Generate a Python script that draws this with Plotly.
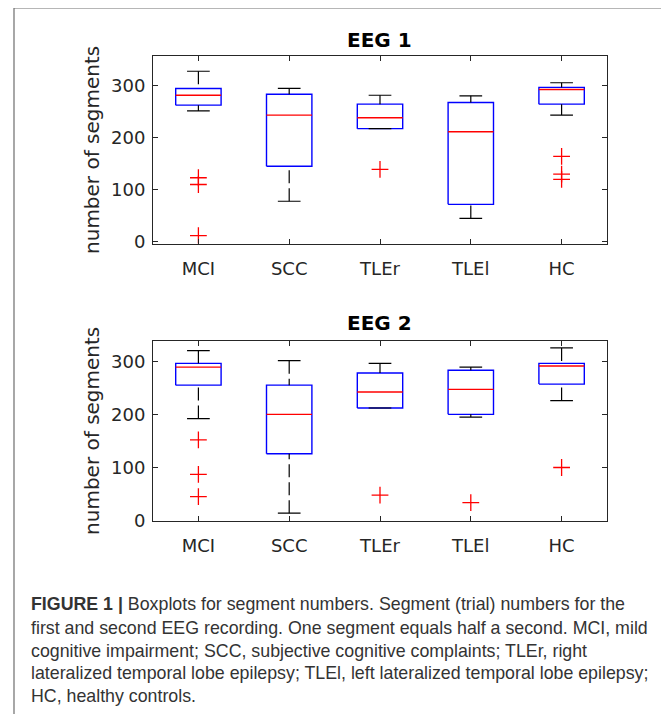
import plotly.graph_objects as go

# The page body has an 8px margin, so the figure is sized/offset to fit the window.
OFF = 8
W, H = 669 - OFF, 722 - 2 * OFF

categories = ["MCI", "SCC", "TLEr", "TLEl", "HC"]
y_ticks = [0, 100, 200, 300]

# EEG 1 box statistics
eeg1_lower = [251, 78, 217, 45, 243]
eeg1_q1 = [262, 145, 217, 72, 264]
eeg1_median = [281, 243, 238, 211, 292]
eeg1_q3 = [294, 283, 264, 267, 296]
eeg1_upper = [327, 294, 281, 280, 305]
eeg1_outliers = [[123, 110, 12], [], [139], [], [164, 130, 120]]

# EEG 2 box statistics
eeg2_lower = [192, 14, 212, 195, 226]
eeg2_q1 = [255, 126, 212, 200, 257]
eeg2_median = [289, 200, 242, 247, 291]
eeg2_q3 = [296, 255, 278, 283, 296]
eeg2_upper = [320, 301, 296, 289, 325]
eeg2_outliers = [[152, 87, 45], [], [48], [34], [100]]

caption_lines = [
    "<b>FIGURE 1 |</b> Boxplots for segment numbers. Segment (trial) numbers for the",
    "first and second EEG recording. One segment equals half a second. MCI, mild",
    "cognitive impairment; SCC, subjective cognitive complaints; TLEr, right",
    "lateralized temporal lobe epilepsy; TLEl, left lateralized temporal lobe epilepsy;",
    "HC, healthy controls.",
]

FONT = "DejaVu Sans"
AX_COL = "#262626"
BOX_W = 0.5
CAP_W = 0.25

fig = go.Figure()


def add_panel(lower, q1, med, q3, upper, outliers, xa, ya):
    pos = list(range(1, len(categories) + 1))
    # boxes
    bx, by = [], []
    for p, a, b in zip(pos, q1, q3):
        bx += [p - BOX_W / 2, p + BOX_W / 2, p + BOX_W / 2, p - BOX_W / 2, p - BOX_W / 2, None]
        by += [a, a, b, b, a, None]
    fig.add_trace(go.Scatter(x=bx, y=by, mode="lines",
                             line=dict(color="#0000ff", width=1.4),
                             xaxis=xa, yaxis=ya, showlegend=False, hoverinfo="skip"))
    # whiskers (drawn from cap toward box)
    wx, wy = [], []
    for p, lo, a, b, up in zip(pos, lower, q1, q3, upper):
        if lo < a:
            wx += [p, p, None]
            wy += [lo, a, None]
        if up > b:
            wx += [p, p, None]
            wy += [up, b, None]
    fig.add_trace(go.Scatter(x=wx, y=wy, mode="lines",
                             line=dict(color="black", width=1.2, dash="13px,5px"),
                             xaxis=xa, yaxis=ya, showlegend=False, hoverinfo="skip"))
    # caps
    cx, cy = [], []
    for p, lo, up in zip(pos, lower, upper):
        cx += [p - CAP_W / 2, p + CAP_W / 2, None, p - CAP_W / 2, p + CAP_W / 2, None]
        cy += [lo, lo, None, up, up, None]
    fig.add_trace(go.Scatter(x=cx, y=cy, mode="lines",
                             line=dict(color="black", width=1.2),
                             xaxis=xa, yaxis=ya, showlegend=False, hoverinfo="skip"))
    # medians
    mx, my = [], []
    for p, m in zip(pos, med):
        mx += [p - BOX_W / 2, p + BOX_W / 2, None]
        my += [m, m, None]
    fig.add_trace(go.Scatter(x=mx, y=my, mode="lines",
                             line=dict(color="#ff0000", width=1.4),
                             xaxis=xa, yaxis=ya, showlegend=False, hoverinfo="skip"))
    # outliers
    ox, oy = [], []
    for p, outs in zip(pos, outliers):
        for v in outs:
            ox.append(p)
            oy.append(v)
    fig.add_trace(go.Scatter(x=ox, y=oy, mode="markers",
                             marker=dict(symbol="cross-thin", size=12,
                                         line=dict(color="#ff0000", width=1.3)),
                             xaxis=xa, yaxis=ya, showlegend=False, hoverinfo="skip"))


add_panel(eeg1_lower, eeg1_q1, eeg1_median, eeg1_q3, eeg1_upper, eeg1_outliers, "x", "y")
add_panel(eeg2_lower, eeg2_q1, eeg2_median, eeg2_q3, eeg2_upper, eeg2_outliers, "x2", "y2")


def px_x(v):
    return (v - OFF) / W


def px_y(v):
    return 1 - (v - OFF) / H


ax_x_common = dict(
    range=[0.5, len(categories) + 0.5], tickmode="array",
    tickvals=list(range(1, len(categories) + 1)), ticktext=categories,
    ticks="inside", ticklen=5, tickcolor=AX_COL, tickwidth=1,
    showline=True, linecolor=AX_COL, linewidth=1, mirror="allticks",
    showgrid=False, zeroline=False, tickfont=dict(family=FONT, size=18, color=AX_COL),
    ticklabelstandoff=9, fixedrange=True,
)
ax_y_common = dict(
    tickmode="array", tickvals=y_ticks,
    ticks="inside", ticklen=5, tickcolor=AX_COL, tickwidth=1,
    showline=True, linecolor=AX_COL, linewidth=1, mirror="allticks",
    showgrid=False, zeroline=False, tickfont=dict(family=FONT, size=18, color=AX_COL),
    ticklabelstandoff=3, fixedrange=True,
)

xdom = [px_x(153), px_x(607)]
fig.update_layout(
    width=W, height=H, margin=dict(l=0, r=0, t=0, b=0),
    paper_bgcolor="white", plot_bgcolor="white", showlegend=False,
    xaxis=dict(domain=xdom, anchor="y", **ax_x_common),
    yaxis=dict(domain=[px_y(247), px_y(57)], anchor="x", range=[-3.2, 355.6], **ax_y_common),
    xaxis2=dict(domain=xdom, anchor="y2", **ax_x_common),
    yaxis2=dict(domain=[px_y(528), px_y(346)], anchor="x2", range=[0, 337.7], **ax_y_common),
)

annotations = []
for title, cy, ymid in [("EEG 1", 40, 152), ("EEG 2", 328, 437)]:
    annotations.append(dict(text="<b>" + title + "</b>", x=px_x(380), y=px_y(cy),
                            xref="paper", yref="paper", xanchor="center", yanchor="middle",
                            showarrow=False, font=dict(family=FONT, size=20, color="black")))
    annotations.append(dict(text="number of segments", x=px_x(92), y=px_y(ymid),
                            xref="paper", yref="paper", xanchor="center", yanchor="middle",
                            textangle=-90, showarrow=False,
                            font=dict(family=FONT, size=20, color=AX_COL)))

caption_centers = [613, 637, 660, 683, 706]
for line, cy in zip(caption_lines, caption_centers):
    annotations.append(dict(text=line, x=px_x(29), y=px_y(cy), xref="paper", yref="paper",
                            xanchor="left", yanchor="middle", showarrow=False, align="left",
                            font=dict(family="Liberation Sans", size=17.8, color="#333333")))
fig.update_layout(annotations=annotations)

fig.add_shape(type="rect", xref="paper", yref="paper",
              x0=px_x(14), x1=px_x(667), y0=-0.1, y1=px_y(8),
              line=dict(color="#6e6e6e", width=1.2), fillcolor="rgba(0,0,0,0)")

fig.write_html("out.html")
